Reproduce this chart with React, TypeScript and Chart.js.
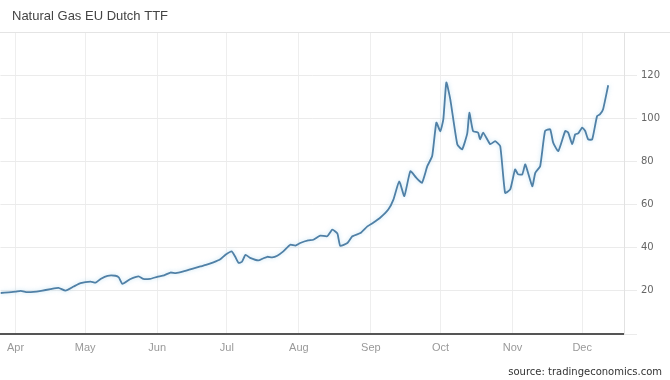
import React, { useEffect, useRef } from "react";
import { Chart, registerables } from "chart.js";

Chart.register(...registerables);

// day offsets from 1 April
const days = [
  -6.5, -3, 0, 2.2, 5, 7.7, 11, 15, 18.5, 21.5, 25, 28, 32.3, 34.5, 36.6, 39.6, 43, 44.5, 46, 49.5,
  53, 55, 58, 61, 64, 66.7, 69, 72.3, 76, 79.6, 82, 85.2, 88, 90.4, 93, 94.5, 96, 97.5, 99, 101,
  104.6, 106.5, 108.4, 110.5, 112.7, 115.3, 118.3, 120.5, 122.6, 126, 128.2, 131.2, 134.2, 136.4,
  138.6, 139.8, 142.9, 145, 148.5, 151.5, 154, 157, 160.5, 162.7, 165.2, 167.4, 170, 172.5, 175,
  177.3, 179.4, 181.2, 182.9, 184.2, 185.5, 187.2, 190.2, 192.3, 194.5, 195.4, 197, 199.2, 200,
  201.4, 204.4, 206.5, 208.7, 210.8, 213, 215.1, 216.4, 218.2, 219.5, 222.5, 223.8, 225.9, 228,
  230.2, 231.5, 233.7, 236.7, 238, 239.7, 241, 242.3, 244, 245.3, 246.6, 248.3, 250.4, 251.7, 253,
  255.2,
];

const prices = [
  19.0, 19.3, 19.6, 20.0, 19.4, 19.5, 20.0, 20.8, 21.4, 20.1, 22.0, 23.6, 24.3, 23.8, 25.5, 27.0,
  27.0, 26.2, 23.2, 25.5, 26.7, 25.5, 25.6, 26.5, 27.2, 28.5, 28.2, 29.0, 30.2, 31.3, 32.0, 33.2,
  34.5, 36.7, 38.3, 36.0, 33.0, 33.5, 36.7, 35.3, 34.1, 35.0, 35.8, 35.5, 36.3, 38.3, 41.4, 41.0,
  42.2, 43.4, 43.7, 45.6, 45.3, 48.4, 46.5, 40.9, 42.2, 45.3, 46.8, 49.9, 51.6, 53.9, 57.7, 62.3,
  70.8, 63.9, 75.5, 72.5, 70.1, 77.8, 82.5, 98.0, 94.0, 99.5, 116.6, 108.8, 88.0, 85.6, 93.0, 102.6,
  94.1, 93.3, 90.2, 93.3, 88.0, 89.4, 87.1, 65.4, 67.0, 76.3, 74.0, 74.0, 78.6, 68.5, 74.7, 77.8,
  94.1, 94.9, 88.7, 84.8, 94.1, 93.3, 88.0, 92.6, 93.0, 95.7, 94.1, 90.2, 90.2, 101.0, 101.9, 104.2,
  115.3,
];

const monthDays = [0, 30, 61, 91, 122, 153, 183, 214, 244];
const monthLabels = ["Apr", "May", "Jun", "Jul", "Aug", "Sep", "Oct", "Nov", "Dec"];
const yTicks = [0, 20, 40, 60, 80, 100, 120, 140];
const yLabels = ["", "20", "40", "60", "80", "100", "120", ""];

const titleText = "Natural Gas EU Dutch TTF";
const sourceText = "source: tradingeconomics.com";

const decorPlugin = {
  id: "decor",
  beforeDatasetsDraw(chart: any) {
    const ctx = chart.ctx;
    ctx.save();
    ctx.shadowColor = "rgba(150,205,235,0.6)";
    ctx.shadowBlur = 4;
  },
  afterDatasetsDraw(chart: any) {
    chart.ctx.restore();
  },
  afterDraw(chart: any) {
    const ctx = chart.ctx;
    ctx.save();
    ctx.fillStyle = "#444";
    ctx.font = "13px 'Liberation Sans', Arial, sans-serif";
    ctx.textBaseline = "middle";
    ctx.textAlign = "left";
    ctx.fillText(titleText, 12, 16);
    ctx.strokeStyle = "#e4e4e4";
    ctx.lineWidth = 1;
    ctx.beginPath();
    ctx.moveTo(0, chart.chartArea.top + 0.5);
    ctx.lineTo(chart.width, chart.chartArea.top + 0.5);
    ctx.stroke();
    ctx.fillStyle = "#333";
    ctx.font = "10px 'DejaVu Sans', Verdana, sans-serif";
    ctx.textAlign = "right";
    ctx.fillText(sourceText, 662, 372);
    ctx.restore();
  },
};

export default function App() {
  const ref = useRef<HTMLCanvasElement | null>(null);
  useEffect(() => {
    if (!ref.current) return;
    const chart = new Chart(ref.current, {
      type: "line",
      data: {
        datasets: [
          {
            data: days.map((d, i) => ({ x: d, y: prices[i] })),
            borderColor: "#5080a6",
            borderWidth: 1.8,
            pointRadius: 0,
            tension: 0.15,
            fill: false,
          },
        ],
      },
      options: {
        responsive: false,
        animation: false,
        layout: { padding: { top: 32, left: 0, right: 0, bottom: 0 } },
        plugins: { legend: { display: false }, tooltip: { enabled: false }, title: { display: false } },
        scales: {
          x: {
            type: "linear",
            min: days[0],
            max: 262,
            afterBuildTicks: (scale: any) => {
              scale.ticks = monthDays.map((v) => ({ value: v }));
            },
            afterFit: (scale: any) => {
              scale.height = 46;
            },
            ticks: {
              autoSkip: false,
              maxRotation: 0,
              padding: 7,
              color: "#999",
              font: { family: "'Liberation Sans', Arial, sans-serif", size: 11 },
              callback: (v: any) => {
                const i = monthDays.indexOf(Number(v));
                return i >= 0 ? monthLabels[i] : "";
              },
            },
            grid: { color: "#eeeeee", drawTicks: false },
            border: { display: true, color: "#555", width: 2 },
          },
          y: {
            type: "linear",
            position: "right",
            min: 0,
            max: 140,
            afterBuildTicks: (scale: any) => {
              scale.ticks = yTicks.map((v) => ({ value: v }));
            },
            afterFit: (scale: any) => {
              scale.width = 46;
            },
            ticks: {
              padding: 4,
              color: "#666",
              font: { family: "'DejaVu Sans', Verdana, sans-serif", size: 10 },
              callback: (v: any) => {
                const i = yTicks.indexOf(Number(v));
                return i >= 0 ? yLabels[i] : "";
              },
            },
            grid: { color: "#ebebeb", tickLength: 13, drawTicks: true },
            border: { display: true, color: "#e2e2e2", width: 1 },
          },
        },
      },
      plugins: [decorPlugin],
    });
    return () => chart.destroy();
  }, []);
  return (
    <div style={{ position: "absolute", left: 0, top: 0, width: 670, height: 380, background: "#fff" }}>
      <canvas ref={ref} width={670} height={380} />
    </div>
  );
}
